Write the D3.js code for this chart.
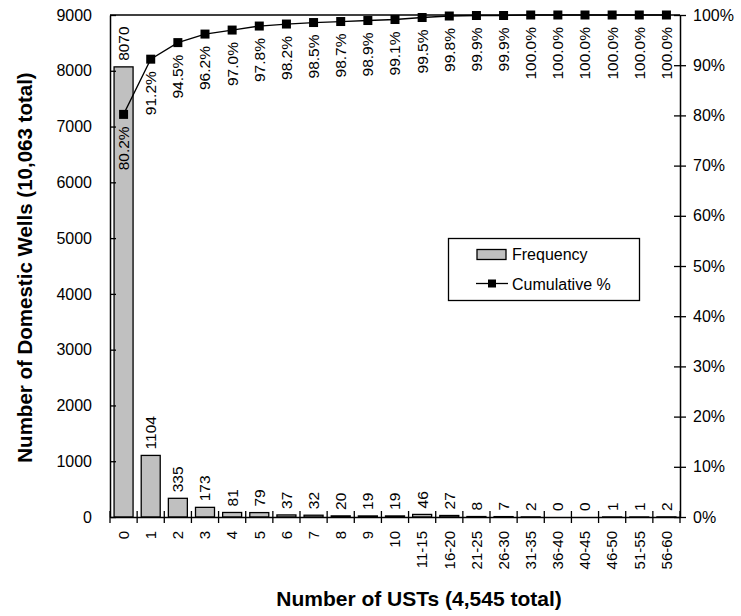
<!DOCTYPE html>
<html>
<head>
<meta charset="utf-8">
<script src="https://cdn.jsdelivr.net/npm/d3@7/dist/d3.min.js"></script>
<style>
  html, body { margin: 0; padding: 0; background: #fff; }
  svg { display: block; font-family: "Liberation Sans", Arial, sans-serif; }
</style>
</head>
<body>
<svg id="chart" width="741" height="616"></svg>
<script>
const categories = ["0","1","2","3","4","5","6","7","8","9","10","11-15","16-20","21-25","26-30","31-35","36-40","40-45","46-50","51-55","56-60"];
const frequency = [8070,1104,335,173,81,79,37,32,20,19,19,46,27,8,7,2,0,0,1,1,2];
const cumulative = [80.2,91.2,94.5,96.2,97.0,97.8,98.2,98.5,98.7,98.9,99.1,99.5,99.8,99.9,99.9,100.0,100.0,100.0,100.0,100.0,100.0];
const leftTicks = [0,1000,2000,3000,4000,5000,6000,7000,8000,9000];
const rightTicks = [0,10,20,30,40,50,60,70,80,90,100];
const xTitle = "Number of USTs (4,545 total)";
const yTitle = "Number of Domestic Wells (10,063 total)";
const legendLabels = ["Frequency", "Cumulative %"];

const svg = d3.select("#chart");
const L = 110, R = 680, T = 15, B = 517;

const x = d3.scaleBand().domain(categories).range([L, R]).paddingInner(0.3).paddingOuter(0.15);
const y = d3.scaleLinear().domain([0, 9000]).range([B, T]);
const y2 = d3.scaleLinear().domain([0, 100]).range([B, T]);
const step = x.step();

// bars
svg.append("g").selectAll("rect").data(frequency).join("rect")
  .attr("x", (d,i) => x(categories[i]))
  .attr("y", d => y(d))
  .attr("width", x.bandwidth())
  .attr("height", d => B - y(d))
  .attr("fill", "#c0c0c0")
  .attr("stroke", d => d > 0 ? "#000" : "none")
  .attr("stroke-width", 1.3);

// frame top
svg.append("line").attr("x1", L).attr("x2", R).attr("y1", T).attr("y2", T)
  .attr("stroke", "#000").attr("stroke-width", 1.3);

// left axis
const gl = svg.append("g").attr("transform", `translate(${L},0)`)
  .call(d3.axisLeft(y).tickValues(leftTicks).tickFormat(d3.format("d")).tickSizeInner(6).tickSizeOuter(0).tickPadding(12));
gl.selectAll(".tick line").attr("x2", 6);
// right axis
const gr = svg.append("g").attr("transform", `translate(${R},0)`)
  .call(d3.axisRight(y2).tickValues(rightTicks).tickFormat(d => d + "%").tickSizeInner(6).tickSizeOuter(0).tickPadding(7));
gr.selectAll(".tick line").attr("x1", -6);
// bottom axis
const gb = svg.append("g").attr("transform", `translate(0,${B})`)
  .call(d3.axisBottom(x).tickSizeInner(0).tickSizeOuter(0));
gb.selectAll(".tick line").remove();
gb.selectAll(".tick text")
  .attr("transform", "translate(0,14) rotate(-90)")
  .attr("text-anchor", "end")
  .attr("x", 0).attr("y", 0).attr("dy", "0.35em");
// boundary ticks on x axis
const bounds = d3.range(categories.length + 1).map(i => L + i * step);
svg.append("g").selectAll("line").data(bounds).join("line")
  .attr("x1", d => d).attr("x2", d => d).attr("y1", B - 6).attr("y2", B + 6)
  .attr("stroke", "#000").attr("stroke-width", 1.3);

[gl, gr, gb].forEach(g => {
  g.selectAll(".domain").attr("stroke", "#000").attr("stroke-width", 1.5);
  g.selectAll(".tick line").attr("stroke", "#000").attr("stroke-width", 1.3);
  g.selectAll(".tick text").attr("fill", "#000").style("font-size", "16px").style("font-family", "Liberation Sans, Arial, sans-serif");
});
gb.selectAll(".tick text").style("font-size", "15px");

// frequency labels
svg.append("g").selectAll("text").data(frequency).join("text")
  .attr("transform", (d,i) => `translate(${x(categories[i]) + x.bandwidth()/2},${y(d) - 6}) rotate(-90)`)
  .attr("text-anchor", "start")
  .attr("dy", "0.35em")
  .style("font-size", "15.5px")
  .text(d => d);

// cumulative line
const cx = (i) => x(categories[i]) + x.bandwidth()/2;
const line = d3.line().x((d,i) => cx(i)).y(d => y2(d));
svg.append("path").datum(cumulative).attr("d", line)
  .attr("fill", "none").attr("stroke", "#000").attr("stroke-width", 1.3);
svg.append("g").selectAll("rect").data(cumulative).join("rect")
  .attr("x", (d,i) => cx(i) - 4.5).attr("y", d => y2(d) - 4.5)
  .attr("width", 9).attr("height", 9).attr("fill", "#000");

// cumulative labels
svg.append("g").selectAll("text").data(cumulative).join("text")
  .attr("transform", (d,i) => `translate(${cx(i)},${y2(d) + 12}) rotate(-90)`)
  .attr("text-anchor", "end")
  .attr("dy", "0.35em")
  .style("font-size", "15.5px")
  .text(d => d.toFixed(1) + "%");

// titles
svg.append("text").attr("x", 419).attr("y", 606).attr("text-anchor", "middle")
  .style("font-size", "21px").style("font-weight", "bold").text(xTitle);
svg.append("text").attr("transform", "translate(25,267.5) rotate(-90)").attr("text-anchor", "middle")
  .attr("dy", "0.35em")
  .style("font-size", "20.5px").style("font-weight", "bold").text(yTitle);

// legend
const lg = svg.append("g");
lg.append("rect").attr("x", 448.5).attr("y", 238.5).attr("width", 191).attr("height", 62)
  .attr("fill", "#fff").attr("stroke", "#000").attr("stroke-width", 1.3);
lg.append("rect").attr("x", 477).attr("y", 249.5).attr("width", 29).attr("height", 10)
  .attr("fill", "#c0c0c0").attr("stroke", "#000").attr("stroke-width", 1.3);
lg.append("text").attr("x", 512).attr("y", 260).style("font-size", "16px").text(legendLabels[0]);
lg.append("line").attr("x1", 476).attr("x2", 508).attr("y1", 283.5).attr("y2", 283.5)
  .attr("stroke", "#000").attr("stroke-width", 1.3);
lg.append("rect").attr("x", 488).attr("y", 279.5).attr("width", 8).attr("height", 8).attr("fill", "#000");
lg.append("text").attr("x", 512).attr("y", 290).style("font-size", "16px").text(legendLabels[1]);
</script>
</body>
</html>
